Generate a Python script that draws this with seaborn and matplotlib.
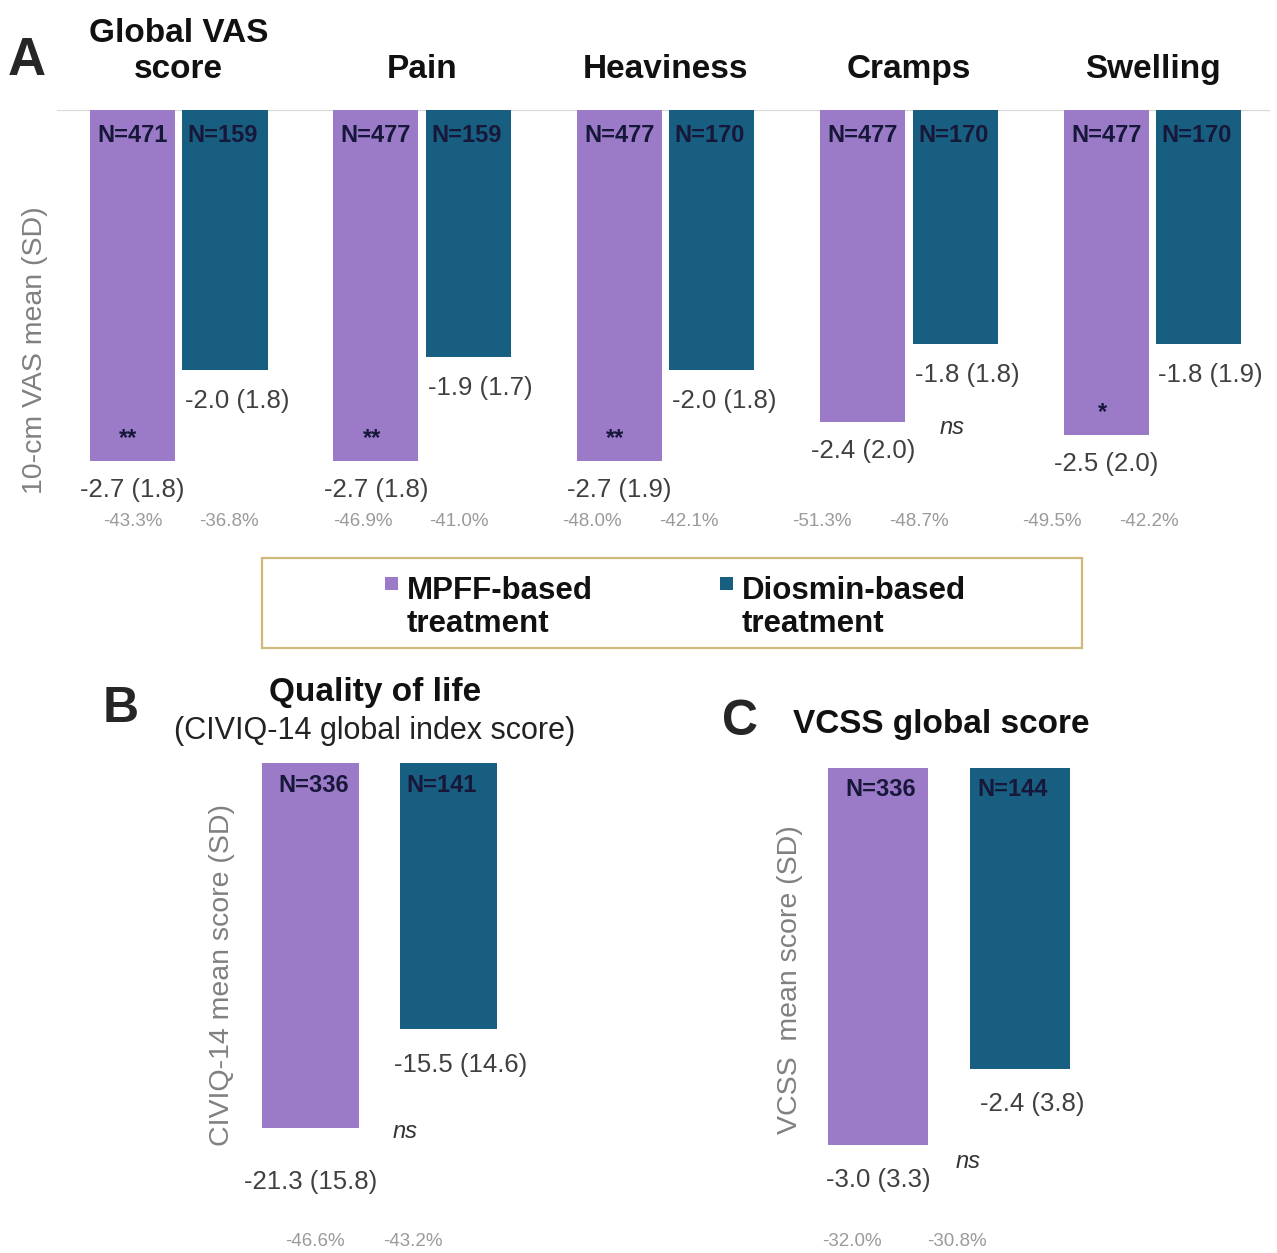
import matplotlib
matplotlib.use("Agg")
import matplotlib.pyplot as plt
import matplotlib.transforms as mtrans
from matplotlib.patches import Rectangle
import pandas as pd
import seaborn as sns

# ---------------- data ----------------
symptoms = ["Global VAS\nscore", "Pain", "Heaviness", "Cramps", "Swelling"]
treatments = ["MPFF-based\ntreatment", "Diosmin-based\ntreatment"]

vas_mpff_mean = [-2.7, -2.7, -2.7, -2.4, -2.5]
vas_mpff_sd = [1.8, 1.8, 1.9, 2.0, 2.0]
vas_dios_mean = [-2.0, -1.9, -2.0, -1.8, -1.8]
vas_dios_sd = [1.8, 1.7, 1.8, 1.8, 1.9]
vas_mpff_n = [471, 477, 477, 477, 477]
vas_dios_n = [159, 159, 170, 170, 170]
vas_mpff_pct = [-43.3, -46.9, -48.0, -51.3, -49.5]
vas_dios_pct = [-36.8, -41.0, -42.1, -48.7, -42.2]
vas_signif = ["**", "**", "**", "ns", "*"]

qol_mean = [-21.3, -15.5]
qol_sd = [15.8, 14.6]
qol_n = [336, 141]
qol_pct = [-46.6, -43.2]
qol_signif = "ns"

vcss_mean = [-3.0, -2.4]
vcss_sd = [3.3, 3.8]
vcss_n = [336, 144]
vcss_pct = [-32.0, -30.8]
vcss_signif = "ns"

# ---------------- style ----------------
PURPLE = "#9b7bc8"
TEAL = "#175e80"
NAVY = "#17173a"
VAL_GREY = "#404040"
PCT_GREY = "#9a9a9a"
AXLAB_GREY = "#808080"

sns.set_style("white")
plt.rcParams["font.family"] = ["Liberation Sans", "DejaVu Sans"]

W, H = 1277, 1253
fig = plt.figure(figsize=(W / 100, H / 100), dpi=100)


def rect(l, t, r, b):
    return [l / W, 1 - b / H, (r - l) / W, (b - t) / H]


def fx(px):
    return px / W


def fy(py):
    return 1 - py / H


def note(ax, x, y, s, dx_px=0, dy_px=0, **kw):
    """Text anchored on a data point, shifted by pixels (dy positive = down)."""
    kw.setdefault("ha", "center")
    kw.setdefault("va", "center")
    ax.annotate(s, (x, y), xytext=(dx_px * 0.72, -dy_px * 0.72),
                textcoords="offset points", annotation_clip=False, **kw)


def bar_geometry(ax):
    out = []
    for cont in ax.containers:
        out.append([(b.get_x() + b.get_width() / 2, b.get_y() + b.get_height())
                    for b in cont])
    return out


# ---------------- panel A ----------------
A_TOP, A_BOT = 110, 545
axA = fig.add_axes(rect(57, A_TOP, 1270, A_BOT))
df_a = pd.DataFrame({
    "symptom": symptoms * 2,
    "treatment": [t for t in treatments for _ in symptoms],
    "mean": vas_mpff_mean + vas_dios_mean,
})
sns.barplot(data=df_a, x="symptom", y="mean", hue="treatment",
            order=symptoms, hue_order=treatments, palette=[PURPLE, TEAL],
            width=0.76, gap=0.08, saturation=1, errorbar=None,
            linewidth=0, legend=False, ax=axA)
axA.set_xlim(-0.5, 4.483)
axA.set_ylim(-(A_BOT - A_TOP) / 130.0, 0)
axA.axhline(0, color="#d9d9d9", lw=1.6, zorder=0.5)
axA.axis("off")

geoA = bar_geometry(axA)
transA = mtrans.blended_transform_factory(axA.transData, axA.transAxes)


def yA(px):
    return (A_BOT - px) / (A_BOT - A_TOP)


# group titles: the last line of each title sits on a common baseline
for i, name in enumerate(symptoms):
    axA.text(i, yA(78), name, transform=transA, ha="center",
             va="baseline", fontsize=24, fontweight="bold", color="#111111",
             linespacing=1.22)

for k, (means, sds, ns, pcts) in enumerate([
        (vas_mpff_mean, vas_mpff_sd, vas_mpff_n, vas_mpff_pct),
        (vas_dios_mean, vas_dios_sd, vas_dios_n, vas_dios_pct)]):
    for i, (xc, yb) in enumerate(geoA[k]):
        note(axA, xc, 0, f"N={ns[i]}", dx_px=-2 * k, dy_px=26,
             fontsize=17, fontweight="bold", color=NAVY)
        note(axA, xc, yb, f"{means[i]:.1f} ({sds[i]:.1f})",
             dx_px=12 * k, dy_px=29 + 2 * k, fontsize=18.5, color=VAL_GREY)
        drift = (4 * k - 13.5 * i) / 243.5
        axA.text(xc + drift, yA(522), f"{pcts[i]:.1f}%", transform=transA,
                 ha="center", va="center", fontsize=13.5, color=PCT_GREY)

for i, mark in enumerate(vas_signif):
    xm, ym = geoA[0][i]
    xd, yd = geoA[1][i]
    if mark == "ns":
        note(axA, xd, ym, mark, dx_px=-3, dy_px=5, fontsize=17,
             style="italic", color="#333333")
    else:
        note(axA, xm, ym, mark, dx_px=-4, dy_px=-22, fontsize=17,
             fontweight="bold", color=NAVY)

fig.text(fx(8), fy(75), "A", fontsize=38, fontweight="bold", ha="left",
         va="baseline")
fig.text(fx(35), fy(350), "10-cm VAS mean (SD)", rotation=90, ha="center",
         va="center", fontsize=20.5, color=AXLAB_GREY)

# ---------------- legend ----------------
fig.patches.append(Rectangle((fx(262), fy(648)), (1082 - 262) / W, 90 / H,
                             transform=fig.transFigure, fill=False,
                             edgecolor="#cdb979", lw=1.6))
for col, txt, sq_x, tx in [(PURPLE, treatments[0], 385, 407),
                           (TEAL, treatments[1], 720, 742)]:
    fig.patches.append(Rectangle((fx(sq_x), fy(590)), 13 / W, 13 / H,
                                 transform=fig.transFigure, color=col, lw=0))
    fig.text(fx(tx), fy(632), txt, ha="left", va="baseline", fontsize=22.5,
             fontweight="bold", color="#111111", linespacing=1.15)


# ---------------- panels B and C ----------------
def small_panel(box, top, bot, x0, step, scale, width, means, sds, ns, pcts,
                signif, val_dy, ns_off, pct_px):
    l, r = box
    ax = fig.add_axes(rect(l, top, r, bot))
    df = pd.DataFrame({"treatment": treatments, "mean": means})
    sns.barplot(data=df, x="treatment", y="mean", hue="treatment",
                order=treatments, hue_order=treatments,
                palette=[PURPLE, TEAL], width=width, saturation=1,
                errorbar=None, linewidth=0, legend=False, dodge=False, ax=ax)
    ax.set_xlim((l - x0) / step, (r - x0) / step)
    ax.set_ylim(-(bot - top) / scale, 0)
    ax.axis("off")
    centers = []
    for cont in ax.containers:
        for b in cont:
            if b.get_height() != 0:
                centers.append((b.get_x() + b.get_width() / 2,
                                b.get_y() + b.get_height()))
    centers.sort()
    tr = mtrans.blended_transform_factory(ax.transData, ax.transAxes)
    for k, (xc, yb) in enumerate(centers):
        note(ax, xc, 0, f"N={ns[k]}", dx_px=(3, -7)[k], dy_px=22,
             fontsize=17, fontweight="bold", color=NAVY)
        note(ax, xc, yb, f"{means[k]:.1f} ({sds[k]:.1f})",
             dx_px=(0, 12)[k], dy_px=val_dy[k], fontsize=18.5, color=VAL_GREY)
        ax.text((pct_px[k] - x0) / step, (bot - 1241) / (bot - top),
                f"{pcts[k]:.1f}%", transform=tr, ha="center", va="center",
                fontsize=13.5, color=PCT_GREY)
    note(ax, centers[1][0], centers[0][1], signif, dx_px=ns_off[0],
         dy_px=ns_off[1], fontsize=17, style="italic", color="#333333")
    return ax


small_panel((240, 520), 763, 1250, 310.5, 138.0, 17.15, 0.70,
            qol_mean, qol_sd, qol_n, qol_pct, qol_signif,
            val_dy=(54, 36), ns_off=(-43, 3), pct_px=(315, 413))
small_panel((800, 1110), 768, 1250, 878.0, 142.0, 125.5, 0.704,
            vcss_mean, vcss_sd, vcss_n, vcss_pct, vcss_signif,
            val_dy=(35, 35), ns_off=(-52, 17), pct_px=(852, 957))

fig.text(fx(103), fy(722), "B", fontsize=36, fontweight="bold", ha="left",
         va="baseline")
fig.text(fx(375), fy(701), "Quality of life", fontsize=24, fontweight="bold",
         ha="center", va="baseline", color="#111111")
fig.text(fx(375), fy(739), "(CIVIQ-14 global index score)", fontsize=22,
         ha="center", va="baseline", color="#222222")
fig.text(fx(222), fy(975), "CIVIQ-14 mean score (SD)", rotation=90,
         ha="center", va="center", fontsize=20.5, color=AXLAB_GREY)

fig.text(fx(722), fy(735), "C", fontsize=36, fontweight="bold", ha="left",
         va="baseline")
fig.text(fx(793), fy(733), "VCSS global score", fontsize=24,
         fontweight="bold", ha="left", va="baseline", color="#111111")
fig.text(fx(790), fy(980), "VCSS  mean score (SD)", rotation=90,
         ha="center", va="center", fontsize=20.5, color=AXLAB_GREY)

fig.savefig("out.png", dpi=100, facecolor="white")
